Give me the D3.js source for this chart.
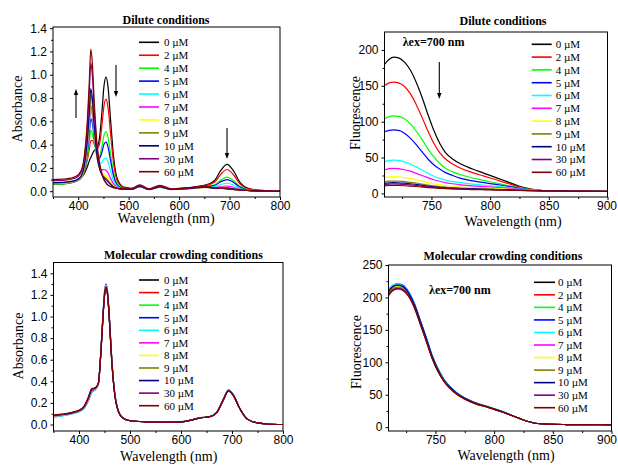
<!DOCTYPE html>
<html><head><meta charset="utf-8">
<script src="https://cdn.jsdelivr.net/npm/d3@7"></script>
<style>body{margin:0;background:#fff}svg{display:block}</style>
</head><body><svg id="c" width="618" height="466"></svg>
<script>
// ---------------- DATA ----------------
const concLabels = ["0 µM","2 µM","4 µM","5 µM","6 µM","7 µM","8 µM","9 µM","10 µM","30 µM","60 µM"];

const absXTicks = [400,500,600,700,800];
const absXMinor = [350,450,550,650,750];
const absYTicks = [0,0.2,0.4,0.6,0.8,1.0,1.2,1.4];
const absYMinor = [0.1,0.3,0.5,0.7,0.9,1.1,1.3];
const fluXTicks = [750,800,850,900];
const fluXMinor = [725,775,825,875];
const fluYTicksDilute = [0,50,100,150,200];
const fluYMinorDilute = [25,75,125,175];
const fluYTicksCrowd = [0,50,100,150,200,250];
const fluYMinorCrowd = [25,75,125,175,225];

const diluteAbsWavelength = [350,375,395,405,412,418,422,425,428,432,437,442,447,451,455,459,464,470,478,490,505,522,540,562,585,620,650,670,683,695,707,720,740,770,800];
const diluteAbsValues = [
 [0.06,0.065,0.085,0.11,0.15,0.21,0.26,0.29,0.32,0.35,0.37,0.45,0.68,0.90,0.98,0.90,0.62,0.30,0.10,0.035,0.025,0.04,0.02,0.035,0.02,0.03,0.05,0.09,0.18,0.23,0.18,0.08,0.02,0.005,0.0],
 [0.064,0.069,0.088,0.115,0.169,0.266,0.363,0.431,0.436,0.402,0.363,0.398,0.565,0.731,0.790,0.723,0.499,0.243,0.083,0.031,0.023,0.041,0.019,0.036,0.019,0.029,0.047,0.076,0.147,0.186,0.145,0.065,0.017,0.004,0],
 [0.061,0.065,0.081,0.108,0.168,0.291,0.424,0.522,0.500,0.407,0.314,0.302,0.385,0.479,0.510,0.464,0.321,0.159,0.058,0.024,0.019,0.037,0.016,0.033,0.016,0.024,0.039,0.054,0.097,0.121,0.094,0.043,0.012,0.003,0],
 [0.066,0.070,0.086,0.115,0.185,0.333,0.498,0.622,0.585,0.451,0.322,0.284,0.334,0.402,0.421,0.381,0.265,0.133,0.050,0.022,0.018,0.039,0.016,0.035,0.016,0.025,0.039,0.049,0.082,0.100,0.078,0.036,0.010,0.003,0],
 [0.066,0.070,0.085,0.114,0.191,0.359,0.550,0.695,0.641,0.470,0.307,0.240,0.247,0.276,0.281,0.251,0.175,0.090,0.038,0.019,0.017,0.038,0.015,0.034,0.015,0.023,0.035,0.038,0.058,0.068,0.053,0.025,0.008,0.002,0],
 [0.066,0.069,0.083,0.113,0.193,0.372,0.579,0.737,0.673,0.478,0.292,0.207,0.183,0.186,0.180,0.157,0.112,0.060,0.029,0.016,0.015,0.037,0.014,0.034,0.014,0.021,0.033,0.030,0.040,0.044,0.034,0.017,0.006,0.001,0],
 [0.069,0.072,0.087,0.118,0.204,0.400,0.626,0.800,0.727,0.507,0.299,0.198,0.155,0.143,0.131,0.111,0.080,0.045,0.025,0.016,0.015,0.038,0.015,0.035,0.015,0.022,0.033,0.027,0.032,0.033,0.025,0.013,0.005,0.001,0],
 [0.071,0.075,0.089,0.121,0.211,0.415,0.653,0.836,0.758,0.525,0.305,0.196,0.144,0.125,0.110,0.091,0.067,0.039,0.023,0.016,0.015,0.040,0.015,0.036,0.015,0.022,0.033,0.026,0.028,0.028,0.022,0.012,0.005,0.001,0],
 [0.074,0.078,0.093,0.126,0.221,0.437,0.688,0.881,0.797,0.550,0.317,0.200,0.141,0.116,0.099,0.081,0.059,0.036,0.023,0.016,0.016,0.041,0.015,0.037,0.015,0.023,0.035,0.026,0.027,0.026,0.020,0.011,0.005,0.001,0],
 [0.091,0.095,0.113,0.154,0.272,0.542,0.858,1.101,0.993,0.679,0.382,0.230,0.142,0.099,0.073,0.054,0.042,0.030,0.024,0.018,0.018,0.050,0.018,0.045,0.018,0.027,0.041,0.028,0.024,0.020,0.015,0.010,0.005,0.002,0],
 [0.10,0.105,0.125,0.17,0.30,0.60,0.95,1.22,1.10,0.75,0.42,0.25,0.15,0.10,0.07,0.05,0.04,0.03,0.025,0.02,0.02,0.055,0.02,0.05,0.02,0.03,0.045,0.03,0.025,0.02,0.015,0.01,0.005,0.002,0]
];

const diluteFluWavelength = [710,714,718,722,727,732,737,742,747,752,757,762,768,775,785,795,805,815,825,835,845,860,880,900];
const diluteFluValues = [
 [180,187,190,189,183,172,155,134,110,88,70,57,48,41,34,28,22,16,10,6,4,3.5,3.2,3],
 [150,154,155,154,149,139,124,106,87,70,57,48,41,35,29,24,19,14,9,5.5,4,3.5,3.2,3],
 [104,107,108,107.5,104,97,87,75,62,51,42,35,30,26,21.5,18,14.5,11,8,5,4,3.5,3.2,3],
 [86,88,88.5,88,84,77,68,58,48,40,34,29,25,21,17.5,15,12.5,10,7,5,4,3.5,3.2,3],
 [44,46,46.5,46,44,41,37,32.5,28,24,21,18.5,16.5,15,13,11.5,10,8,6.5,5,4,3.5,3.2,3],
 [33,34.5,35,34.5,33,31,28,25,22,19,17,15,13.5,12,10.5,9.5,8.5,7,6,4.5,4,3.5,3.2,3],
 [22,23,23.5,23,22,21,19,17,15,13.5,12,11,10,9,8,7.5,7,6,5,4.3,3.8,3.5,3.2,3],
 [16,17,17.2,17,16.5,15.5,14.5,13,11.5,10.5,9.5,8.8,8,7.5,6.8,6.3,5.8,5.2,4.6,4.1,3.7,3.4,3.2,3],
 [14,14.8,15,14.8,14.3,13.5,12.5,11.3,10.2,9.3,8.5,7.9,7.3,6.8,6.2,5.8,5.4,4.9,4.4,4,3.6,3.4,3.2,3],
 [12.5,13,13.2,13,12.6,12,11.2,10.2,9.3,8.5,7.8,7.2,6.7,6.3,5.8,5.4,5,4.6,4.2,3.8,3.5,3.3,3.1,3],
 [10.5,11,11.1,11,10.7,10.2,9.6,8.9,8.2,7.6,7.1,6.6,6.2,5.8,5.4,5.1,4.8,4.4,4.1,3.7,3.5,3.3,3.1,3]
];

const crowdAbsWavelength = [350,370,390,400,410,418,425,432,438,443,447,450,453,456,460,464,469,476,486,500,530,560,600,620,635,655,670,683,693,703,715,730,750,770,800];
const crowdAbsValues = [
 [0.08,0.09,0.11,0.125,0.16,0.23,0.31,0.33,0.38,0.68,1.00,1.20,1.28,1.22,0.95,0.62,0.33,0.14,0.06,0.035,0.025,0.022,0.025,0.04,0.06,0.07,0.11,0.23,0.315,0.27,0.15,0.05,0.015,0.005,0.0],
 [0.075,0.088,0.108,0.122,0.155,0.22,0.30,0.325,0.375,0.67,0.99,1.19,1.27,1.21,0.94,0.61,0.325,0.14,0.06,0.035,0.025,0.022,0.025,0.04,0.06,0.07,0.11,0.228,0.312,0.268,0.15,0.05,0.015,0.005,0.0],
 [0.078,0.09,0.11,0.125,0.158,0.225,0.305,0.328,0.378,0.68,1.00,1.21,1.285,1.22,0.95,0.62,0.33,0.14,0.06,0.035,0.026,0.023,0.026,0.041,0.061,0.071,0.112,0.232,0.318,0.272,0.152,0.05,0.015,0.005,0.0],
 [0.07,0.085,0.105,0.12,0.152,0.218,0.30,0.325,0.38,0.69,1.02,1.23,1.30,1.23,0.96,0.63,0.335,0.14,0.06,0.035,0.026,0.023,0.026,0.042,0.062,0.072,0.114,0.235,0.322,0.275,0.153,0.051,0.015,0.005,0.0],
 [0.068,0.083,0.103,0.118,0.15,0.215,0.295,0.32,0.375,0.68,1.01,1.22,1.29,1.22,0.95,0.62,0.33,0.14,0.06,0.035,0.026,0.023,0.026,0.041,0.061,0.071,0.112,0.232,0.318,0.272,0.152,0.05,0.015,0.005,0.0],
 [0.075,0.088,0.108,0.123,0.157,0.225,0.31,0.33,0.38,0.68,1.00,1.20,1.28,1.21,0.95,0.62,0.33,0.14,0.06,0.035,0.025,0.022,0.025,0.04,0.06,0.07,0.11,0.23,0.314,0.27,0.15,0.05,0.015,0.005,0.0],
 [0.078,0.09,0.11,0.126,0.162,0.235,0.32,0.335,0.38,0.68,1.00,1.21,1.285,1.21,0.94,0.61,0.325,0.14,0.06,0.035,0.025,0.022,0.025,0.04,0.06,0.07,0.11,0.23,0.313,0.268,0.15,0.05,0.015,0.005,0.0],
 [0.08,0.092,0.112,0.127,0.163,0.238,0.322,0.336,0.38,0.68,1.00,1.20,1.28,1.21,0.94,0.61,0.325,0.14,0.06,0.035,0.025,0.022,0.025,0.04,0.06,0.07,0.11,0.23,0.313,0.268,0.15,0.05,0.015,0.005,0.0],
 [0.082,0.093,0.113,0.128,0.165,0.24,0.325,0.338,0.382,0.68,1.00,1.20,1.275,1.21,0.94,0.61,0.325,0.14,0.06,0.035,0.025,0.022,0.025,0.04,0.06,0.07,0.11,0.23,0.312,0.268,0.15,0.05,0.015,0.005,0.0],
 [0.085,0.095,0.115,0.13,0.168,0.245,0.33,0.34,0.383,0.67,0.99,1.19,1.27,1.20,0.93,0.60,0.32,0.138,0.06,0.035,0.025,0.022,0.025,0.04,0.06,0.07,0.11,0.228,0.31,0.266,0.148,0.05,0.015,0.005,0.0],
 [0.09,0.098,0.118,0.132,0.17,0.25,0.33,0.34,0.385,0.67,0.99,1.19,1.265,1.20,0.93,0.60,0.32,0.138,0.06,0.035,0.025,0.022,0.025,0.04,0.06,0.07,0.11,0.228,0.31,0.266,0.148,0.05,0.015,0.005,0.0]
];

const crowdFluWavelength = [710,714,718,722,727,732,737,742,747,752,757,762,768,775,785,795,805,815,825,835,845,860,880,900];
const crowdFluValues = [
 [208,216,218,216,206,188,162,136,109,88,73,62,52,44,36,31,25,18,11,6,4.5,4,3.8,3.5],
 [203,211,214,212,203,186,160,135,108,87,72,61,51,43.5,36,30.5,25,18,11,6,4.5,4,3.8,3.5],
 [210,217,219,217,208,190,165,139,112,91,75,63,53,45,37,31.5,25.5,18.5,11,6,4.5,4,3.8,3.5],
 [212,219,221,219,209,191,165,139,111,90,74,63,53,45,37,31,25,18,11,6,4.5,4,3.8,3.5],
 [211,219,221,218,208,190,164,138,110,89,74,62,52,44.5,36.5,31,25,18,11,6,4.5,4,3.8,3.5],
 [206,214,217,215,205,187,161,135,108,87,72,61,51,43.5,35.5,30.5,24.5,18,11,6,4.5,4,3.8,3.5],
 [207,215,217,215,205,186,160,134,107,86,71,60,50,43,35,30,24.5,17.5,10.5,6,4.5,4,3.8,3.5],
 [207,214,216,214,205,187,161,135,108,87,72,61,51,43.5,35.5,30.5,24.5,18,11,6,4.5,4,3.8,3.5],
 [209,217,219,217,207,189,164,138,110,89,73,62,52,44.5,36.5,31,25,18,11,6,4.5,4,3.8,3.5],
 [205,212,214,212,203,185,160,134,107,87,72,61,51,43.5,35.5,30.5,24.5,18,11,6,4.5,4,3.8,3.5],
 [203,211,213,211,202,184,159,133,107,86,71,60,51,43,35.5,30.5,24.5,18,11,6,4.5,4,3.8,3.5]
];

// ---------------- STYLE ----------------
const seriesColors = ["#000000","#ff0000","#00ff00","#0000ff","#00ffff","#ff00ff","#ffff00","#808000","#000080","#800080","#800000"];
const SANS = "'Liberation Sans', Arial, sans-serif";
const SERIF = "'Liberation Serif', 'Times New Roman', serif";

const svg = d3.select("#c");
svg.append("rect").attr("width",618).attr("height",466).attr("fill","#fff");

function panel(cfg, idx){
  const g = svg.append("g");
  const x = d3.scaleLinear().domain(cfg.xDomain).range([cfg.left, cfg.right]);
  const y = d3.scaleLinear().domain(cfg.yDomain).range([cfg.bottom, cfg.top]);
  const clipId = "clip"+idx;
  g.append("clipPath").attr("id",clipId).append("rect")
    .attr("x",cfg.left).attr("y",cfg.top).attr("width",cfg.right-cfg.left).attr("height",cfg.bottom-cfg.top);

  // curves
  const line = d3.line().x(d=>x(d[0])).y(d=>y(d[1])).curve(d3.curveMonotoneX);
  const cg = g.append("g").attr("clip-path",`url(#${clipId})`);
  cfg.values.forEach((vals,i)=>{
    cg.append("path").datum(cfg.wl.map((w,j)=>[w,vals[j]]))
      .attr("d",line).attr("fill","none").attr("stroke",seriesColors[i])
      .attr("stroke-width",1.2).attr("stroke-linejoin","round");
  });

  // frame
  g.append("rect").attr("x",cfg.left).attr("y",cfg.top)
    .attr("width",cfg.right-cfg.left).attr("height",cfg.bottom-cfg.top)
    .attr("fill","none").attr("stroke","#000").attr("stroke-width",1);

  // axes
  const xa = g.append("g").attr("transform",`translate(0,${cfg.bottom})`)
    .call(d3.axisBottom(x).tickValues(cfg.xTicks).tickSize(3).tickPadding(1).tickFormat(d3.format("d")));
  const xm = g.append("g").attr("transform",`translate(0,${cfg.bottom})`)
    .call(d3.axisBottom(x).tickValues(cfg.xMinor).tickSize(2).tickFormat(""));
  const ya = g.append("g").attr("transform",`translate(${cfg.left},0)`)
    .call(d3.axisLeft(y).tickValues(cfg.yTicks).tickSize(3).tickPadding(3).tickFormat(cfg.yFmt));
  const ym = g.append("g").attr("transform",`translate(${cfg.left},0)`)
    .call(d3.axisLeft(y).tickValues(cfg.yMinor).tickSize(2).tickFormat(""));
  [xa,xm,ya,ym].forEach(a=>{
    a.select(".domain").remove();
    a.selectAll("line").attr("stroke","#000");
    a.selectAll("text").attr("font-family",SANS).attr("font-size",12).attr("fill","#000");
  });
  // keep the last x label inside the page (reference shows it at the very edge)
  xa.selectAll(".tick text").each(function(){
    const t = d3.select(this);
    const tx = +d3.select(this.parentNode).attr("transform").match(/translate\(([-\d.]+)/)[1];
    if (tx + 11 > 617) t.attr("text-anchor","end").attr("x", 617 - tx);
  });

  // title
  g.append("text").attr("x",cfg.titleX).attr("y",cfg.titleY).attr("text-anchor","middle")
    .attr("font-family",SERIF).attr("font-weight","bold").attr("font-size",12).text(cfg.title);
  // axis labels
  g.append("text").attr("x",cfg.xLabelX).attr("y",cfg.xLabelY).attr("text-anchor","middle")
    .attr("font-family",SERIF).attr("font-size",14).text("Wavelength (nm)");
  g.append("text").attr("transform",`translate(${cfg.yLabelX},${cfg.yLabelY}) rotate(-90)`)
    .attr("text-anchor","middle").attr("font-family",SERIF).attr("font-size",14).text(cfg.yLabel);

  // legend
  const lg = g.append("g");
  concLabels.forEach((lab,i)=>{
    const yy = cfg.leg.y0 + i*cfg.leg.dy;
    lg.append("line").attr("x1",cfg.leg.x1).attr("x2",cfg.leg.x2).attr("y1",yy).attr("y2",yy)
      .attr("stroke",seriesColors[i]).attr("stroke-width",1.6);
    lg.append("text").attr("x",cfg.leg.tx).attr("y",yy+3.8)
      .attr("font-family",SERIF).attr("font-size",11).text(lab);
  });

  if(cfg.note){
    g.append("text").attr("x",cfg.note.x).attr("y",cfg.note.y)
      .attr("font-family",SERIF).attr("font-weight","bold").attr("font-size",12).text("λex=700 nm");
  }
  (cfg.arrows||[]).forEach(a=>{
    g.append("line").attr("x1",a[0]).attr("y1",a[1]).attr("x2",a[0]).attr("y2",a[2] + (a[2]>a[1]?-4:4))
      .attr("stroke","#000").attr("stroke-width",1.1);
    const s = a[2]>a[1]?1:-1;
    g.append("path").attr("d",`M${a[0]},${a[2]} L${a[0]-2.2},${a[2]-6*s} L${a[0]+2.2},${a[2]-6*s} Z`).attr("fill","#000");
  });
}

panel({left:53,right:280,top:27,bottom:197,xDomain:[350,800],yDomain:[-0.05,1.41],
  xTicks:absXTicks,xMinor:absXMinor,yTicks:absYTicks,yMinor:absYMinor,yFmt:d3.format(".1f"),
  wl:diluteAbsWavelength,values:diluteAbsValues,title:"Dilute conditions",titleX:166,titleY:23.5,
  xLabelX:166,xLabelY:223,yLabelX:22,yLabelY:109,yLabel:"Absorbance",
  leg:{x1:139,x2:159,tx:164,y0:42.3,dy:12.94},
  arrows:[[76,118,89],[116,65,97],[227,128,159]]},0);

panel({left:384.5,right:607.5,top:32,bottom:197,xDomain:[710,900],yDomain:[-5,225],
  xTicks:fluXTicks,xMinor:fluXMinor,yTicks:fluYTicksDilute,yMinor:fluYMinorDilute,yFmt:d3.format("d"),
  wl:diluteFluWavelength,values:diluteFluValues,title:"Dilute conditions",titleX:503,titleY:25,
  xLabelX:513,xLabelY:226,yLabelX:360,yLabelY:113,yLabel:"Fluorescence",
  leg:{x1:531.7,x2:551.7,tx:555.7,y0:44.3,dy:12.8},
  note:{x:402.7,y:46},arrows:[[439.3,62,99]]},1);

panel({left:53.5,right:283,top:262.5,bottom:431,xDomain:[350,800],yDomain:[-0.06,1.5],
  xTicks:absXTicks,xMinor:absXMinor,yTicks:absYTicks,yMinor:absYMinor,yFmt:d3.format(".1f"),
  wl:crowdAbsWavelength,values:crowdAbsValues,title:"Molecular crowding conditions",titleX:183.5,titleY:258.5,
  xLabelX:168.7,xLabelY:461,yLabelX:23,yLabelY:346,yLabel:"Absorbance",
  leg:{x1:139,x2:159,tx:164,y0:280,dy:12.57}},2);

panel({left:388.5,right:611.5,top:265,bottom:431,xDomain:[710,900],yDomain:[-6,250],
  xTicks:fluXTicks,xMinor:fluXMinor,yTicks:fluYTicksCrowd,yMinor:fluYMinorCrowd,yFmt:d3.format("d"),
  wl:crowdFluWavelength,values:crowdFluValues,title:"Molecular crowding conditions",titleX:503,titleY:259.5,
  xLabelX:506,xLabelY:460,yLabelX:361,yLabelY:352,yLabel:"Fluorescence",
  leg:{x1:534,x2:555,tx:558,y0:282.3,dy:12.54},
  note:{x:429,y:294}},3);
</script>
</body></html>
